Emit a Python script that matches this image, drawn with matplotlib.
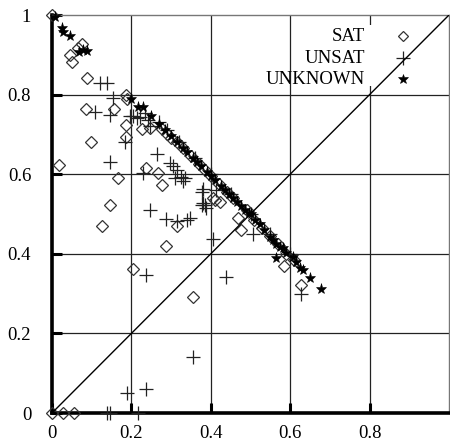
import matplotlib
matplotlib.use("Agg")
import matplotlib.pyplot as plt
from matplotlib.patches import Rectangle

plt.rcParams['font.family'] = ['Liberation Serif', 'DejaVu Serif']

sat_x = [0.0, 0.0, 0.027, 0.056, 0.018,
         0.045, 0.05, 0.066, 0.076, 0.087,
         0.186, 0.19, 0.086, 0.156, 0.186, 0.186, 0.097, 0.226, 0.247, 0.278, 0.301, 0.314,
         0.167, 0.238, 0.267, 0.278, 0.146, 0.127, 0.316, 0.287, 0.205, 0.356,
         0.41, 0.423, 0.477, 0.585, 0.627,
         0.29, 0.33, 0.35, 0.37, 0.385, 0.40, 0.42, 0.44, 0.455, 0.469, 0.49, 0.51,
         0.53, 0.55, 0.57, 0.59, 0.61, 0.406]
sat_y = [1.0, 0.0, 0.0, 0.0, 0.623,
         0.90, 0.883, 0.916, 0.926, 0.842,
         0.799, 0.788, 0.763, 0.763, 0.724, 0.694, 0.682, 0.713, 0.715, 0.713, 0.692, 0.682,
         0.59, 0.615, 0.604, 0.574, 0.523, 0.471, 0.47, 0.42, 0.362, 0.292,
         0.535, 0.531, 0.461, 0.37, 0.322,
         0.70, 0.665, 0.645, 0.625, 0.61, 0.595, 0.575, 0.555, 0.54, 0.489, 0.51, 0.485,
         0.465, 0.445, 0.425, 0.40, 0.385, 0.54]

unsat_x = [0.138, 0.146, 0.216, 0.188, 0.237, 0.356, 0.438, 0.406, 0.506, 0.628, 0.236,
           0.247, 0.286, 0.315, 0.347, 0.339, 0.377, 0.386,
           0.122, 0.138, 0.154, 0.108, 0.146, 0.196, 0.205, 0.213, 0.221, 0.234, 0.242, 0.247,
           0.184, 0.146, 0.228, 0.265, 0.297, 0.305, 0.314, 0.326, 0.33, 0.31, 0.335,
           0.377, 0.381, 0.381, 0.389, 0.414,
           0.27, 0.29, 0.32, 0.36, 0.40, 0.45, 0.50, 0.55, 0.60]
unsat_y = [0.0, 0.0, 0.0, 0.05, 0.06, 0.14, 0.341, 0.438, 0.451, 0.298, 0.347,
           0.509, 0.488, 0.483, 0.489, 0.485, 0.523, 0.523,
           0.828, 0.828, 0.792, 0.757, 0.749, 0.745, 0.745, 0.74, 0.743, 0.754, 0.736, 0.722,
           0.68, 0.63, 0.602, 0.65, 0.629, 0.62, 0.61, 0.594, 0.583, 0.59, 0.59,
           0.556, 0.564, 0.528, 0.514, 0.56,
           0.73, 0.71, 0.68, 0.64, 0.60, 0.55, 0.50, 0.45, 0.40]

unk_x = [0.008, 0.024, 0.028, 0.046, 0.068, 0.079, 0.088, 0.198, 0.217, 0.228,
         0.25, 0.27, 0.285, 0.30, 0.315, 0.33, 0.34, 0.355, 0.365, 0.375, 0.39, 0.40,
         0.41, 0.425, 0.435, 0.445, 0.455, 0.465, 0.475, 0.485, 0.495, 0.502, 0.512,
         0.523, 0.535, 0.548, 0.557, 0.565, 0.575, 0.582, 0.59, 0.565, 0.607, 0.615,
         0.624, 0.632, 0.649, 0.677]
unk_y = [0.995, 0.968, 0.958, 0.948, 0.906, 0.912, 0.91, 0.79, 0.77, 0.77,
         0.745, 0.725, 0.71, 0.695, 0.68, 0.665, 0.655, 0.64, 0.63, 0.62, 0.605, 0.595,
         0.585, 0.57, 0.56, 0.55, 0.54, 0.53, 0.52, 0.51, 0.503, 0.501, 0.485,
         0.476, 0.46, 0.443, 0.435, 0.425, 0.418, 0.414, 0.401, 0.389, 0.393, 0.38,
         0.364, 0.359, 0.338, 0.311]

ticks = [0, 0.2, 0.4, 0.6, 0.8]
tick_labels = ['0', '0.2', '0.4', '0.6', '0.8']
y_ticks = [0, 0.2, 0.4, 0.6, 0.8, 1.0]
y_tick_labels = ['0', '0.2', '0.4', '0.6', '0.8', '1']
series_names = ['SAT', 'UNSAT', 'UNKNOWN']

FS = 13.5

fig = plt.figure(figsize=(4.5, 4.45), dpi=100)
ax = fig.add_axes([52/450, 32/445, 397/450, 398/445])
ax.set_xlim(0, 1)
ax.set_ylim(0, 1)

ax.set_xticks(ticks)
ax.set_xticklabels(tick_labels)
ax.set_yticks(y_ticks)
ax.set_yticklabels(y_tick_labels)
ax.tick_params(direction='in', length=7, width=2.2, labelsize=FS, color='black')
ax.tick_params(axis='x', pad=9)
ax.tick_params(axis='y', pad=15)

for v in [0.2, 0.4, 0.6, 0.8]:
    ax.axvline(v, color='#222222', lw=0.9, zorder=1)
    ax.axhline(v, color='#222222', lw=0.9, zorder=1)

ax.spines['left'].set_linewidth(2.6)
ax.spines['bottom'].set_linewidth(2.6)
ax.spines['top'].set_color('#777777')
ax.spines['top'].set_linewidth(1.0)
ax.spines['right'].set_color('#777777')
ax.spines['right'].set_linewidth(1.0)

ax.plot([0, 1], [0, 1], color='black', lw=1.0, zorder=6)

sty = [dict(marker='D', ms=6.5, mfc='none', mec='#333333', mew=0.9),
       dict(marker='+', ms=10, mec='#222222', mew=0.9),
       dict(marker='*', ms=8, mfc='black', mec='black', mew=0.4)]

for xs, ys, st in zip([sat_x, unsat_x, unk_x], [sat_y, unsat_y, unk_y], sty):
    ax.plot(xs, ys, linestyle='none', clip_on=False, zorder=3, **st)

# key (gnuplot style): white box, right-aligned labels, sample marker to the right
ax.add_patch(Rectangle((0.62, 0.822), 0.34, 0.153, transform=ax.transAxes,
                       facecolor='white', edgecolor='none', zorder=4))
key_y = [0.946, 0.891, 0.839]
leg_sty = [dict(marker='D', ms=5.5, mfc='none', mec='#333333', mew=0.9),
           dict(marker='+', ms=10, mec='#222222', mew=0.9),
           dict(marker='*', ms=7, mfc='black', mec='black', mew=0.4)]
for name, yk, st in zip(series_names, key_y, leg_sty):
    ax.text(0.788, yk, name, transform=ax.transAxes, ha='right', va='center',
            fontsize=FS, zorder=5)
    ax.plot([0.884], [yk], transform=ax.transAxes, linestyle='none', zorder=5, **st)

fig.savefig('out.png', dpi=100)
